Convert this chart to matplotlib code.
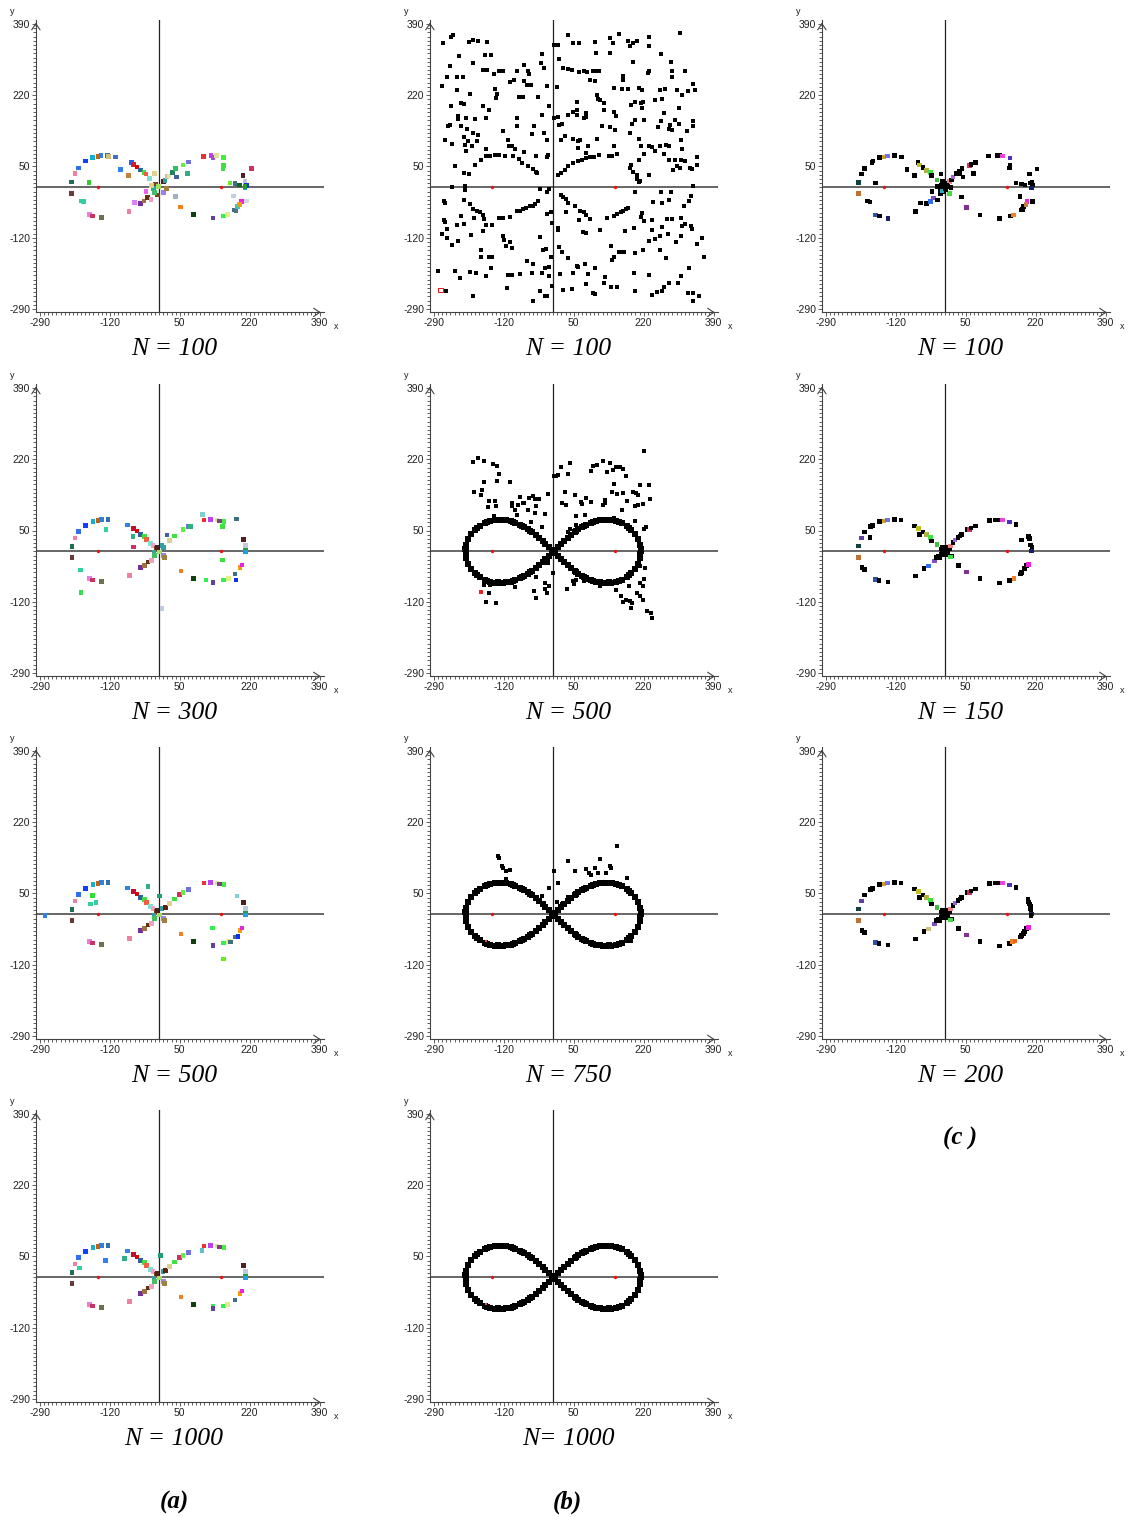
import matplotlib
matplotlib.use("Agg")
import matplotlib.pyplot as plt
from matplotlib.ticker import FixedLocator

# ---------------- data ----------------
TICKS = [-290, -120, 50, 220, 390]
MINOR = list(range(-290, 391, 10))
FOCI_X = [-150, 150]
FOCI_Y = [0, 0]

TITLES = [["N = 100", "N = 300", "N = 500", "N = 1000"],
          ["N = 100", "N = 500", "N = 750", "N= 1000"],
          ["N = 100", "N = 150", "N = 200"]]
GROUP_LABELS = ["(a)", "(b)", "(c )"]

# column (a): coloured agents (x, y, colour)
A1 = [(-213, 13, '#207050'), (-213, -14, '#6b3a3a'), (-205, 33, '#f080a0'), (-197, 46, '#3070f0'),
      (-179, 63, '#1040ff'), (-162, 71, '#10b0d0'), (-149, 74, '#c06010'), (-142, 76, '#3080e0'),
      (-126, 76, '#3070b0'), (-123, 74, '#d0c080'), (-107, 73, '#4070c0'), (-94, 43, '#3080f0'),
      (-68, 60, '#2060f0'), (-63, 55, '#d02030'), (-54, 49, '#e00000'), (-46, 42, '#3060a0'),
      (-74, 29, '#c08040'), (-37, 35, '#40e040'), (-32, 32, '#f06040'), (-24, 22, '#80e0d0'),
      (-11, 33, '#e0d090'), (-171, 12, '#30d030'), (-190, -32, '#30d0a0'), (-184, -34, '#30d0a0'),
      (-170, -65, '#e080e0'), (-162, -68, '#d03060'), (-141, -72, '#707050'), (-73, -57, '#f080a0'),
      (-60, -36, '#e080f0'), (-46, -38, '#7030a0'), (-37, -32, '#a07040'), (-28, -24, '#603010'),
      (-32, -9, '#f060f0'), (-20, -29, '#f0a0c0'), (-9, 8, '#804020'), (-1, 2, '#a0e060'),
      (10, 14, '#502020'), (-4, -18, '#804020'), (10, -12, '#a080f0'), (18, -2, '#a08040'),
      (-14, -3, '#30a0a0'), (14, 17, '#30a0a0'), (-11, -12, '#40c060'), (-18, 5, '#e0d090'),
      (19, 26, '#d0c090'), (24, 27, '#e0e0b0'), (32, 35, '#208060'), (39, 45, '#30c060'),
      (42, 25, '#4060a0'), (58, 54, '#60f040'), (69, 33, '#30b080'), (71, 61, '#7070e0'),
      (108, 74, '#f03030'), (126, 76, '#c040f0'), (131, 72, '#a050c0'), (140, 76, '#e0e0a0'),
      (157, 71, '#40f040'), (157, 53, '#40e040'), (155, 45, '#40e040'), (172, 11, '#60f020'),
      (184, 9, '#407080'), (196, 6, '#106020'), (204, 29, '#502020'), (209, 14, '#c0c0d0'),
      (213, 5, '#1030f0'), (209, 0, '#20a0e0'), (224, 45, '#d03060'), (209, 3, '#20a020'),
      (40, -22, '#a0b0c0'), (52, -47, '#f08020'), (84, -65, '#104010'), (131, -73, '#6040a0'),
      (157, -68, '#30f050'), (166, -65, '#e0f080'), (183, -54, '#407080'), (190, -45, '#40c0c0'),
      (200, -33, '#f020e0'), (213, -32, '#d0d8e0'), (181, -20, '#c0d0e0'), (195, -41, '#f0a000'),
      (187, -56, '#507080')]

A2 = [(-212, 12, '#207050'), (-212, -14, '#6b3a3a'), (-205, 32, '#f080a0'), (-196, 47, '#3070f0'),
      (-179, 62, '#1040ff'), (-161, 71, '#10b0d0'), (-149, 74, '#c06010'), (-141, 76, '#3080e0'),
      (-125, 76, '#3070b0'), (-129, 53, '#30d0a0'), (-77, 63, '#3080f0'), (-63, 55, '#c01030'),
      (-54, 49, '#e00000'), (-45, 41, '#3060a0'), (-64, 35, '#30b080'), (-62, 11, '#d03060'),
      (-36, 35, '#40e040'), (-31, 29, '#f06040'), (-21, 19, '#80e0d0'), (-15, 14, '#f0a0c0'),
      (-192, -44, '#30d0a0'), (-190, -98, '#30e050'), (-170, -64, '#e080e0'), (-162, -68, '#d03060'),
      (-140, -72, '#707050'), (-72, -58, '#f080a0'), (-45, -39, '#7030a0'), (-36, -33, '#a07040'),
      (-27, -25, '#603010'), (-19, -22, '#f0a0c0'), (7, -136, '#c0c8e0'), (-8, 7, '#804020'),
      (0, -1, '#a0e060'), (-5, 10, '#502020'), (11, -10, '#a080f0'), (13, -14, '#a08040'),
      (7, 14, '#30a0a0'), (-13, -2, '#30a0a0'), (-11, -10, '#40c060'), (19, 39, '#4060a0'),
      (25, 26, '#e0d090'), (37, 37, '#40e040'), (11, 10, '#30a0a0'), (58, 53, '#60f040'),
      (71, 60, '#7070e0'), (76, 60, '#30b080'), (106, 88, '#80d0d0'), (109, 75, '#f03030'),
      (125, 76, '#c040f0'), (141, 75, '#e0e0a0'), (147, 73, '#804080'), (158, 72, '#40f040'),
      (154, 59, '#40e040'), (154, -20, '#40e040'), (188, 77, '#407080'), (205, 29, '#502020'),
      (210, 14, '#c0c8e0'), (210, 3, '#20a040'), (210, -1, '#20a0e0'), (53, -47, '#f08020'),
      (84, -64, '#104010'), (114, -68, '#30f050'), (131, -74, '#6040a0'), (157, -68, '#30f050'),
      (168, -64, '#e0f080'), (184, -54, '#407080'), (187, -68, '#1030f0'), (197, -39, '#f0a000'),
      (201, -32, '#f020e0')]

A3 = [(-212, 12, '#207050'), (-212, -14, '#6b3a3a'), (-205, 32, '#f080a0'), (-196, 47, '#3070f0'),
      (-179, 62, '#1040ff'), (-161, 71, '#10b0d0'), (-149, 74, '#c06010'), (-141, 76, '#3080e0'),
      (-125, 76, '#3070b0'), (-278, -2, '#3080f0'), (-162, 45, '#30e030'), (-167, 25, '#30d0a0'),
      (-154, 29, '#30d0a0'), (-77, 63, '#3080f0'), (-63, 55, '#c01030'), (-54, 49, '#e00000'),
      (-45, 41, '#3060a0'), (-27, 66, '#30b080'), (-36, 35, '#40e040'), (-31, 29, '#f06040'),
      (-21, 19, '#80e0d0'), (-15, 14, '#f0a0c0'), (-170, -64, '#e080e0'), (-162, -68, '#d03060'),
      (-140, -72, '#707050'), (-72, -58, '#f080a0'), (-45, -39, '#7030a0'), (-36, -33, '#a07040'),
      (-27, -25, '#603010'), (-19, -22, '#f0a0c0'), (-8, 7, '#804020'), (0, -1, '#a0e060'),
      (-5, 10, '#502020'), (11, -10, '#a080f0'), (13, -14, '#a08040'), (7, 14, '#30a0a0'),
      (-13, -2, '#30a0a0'), (-11, -10, '#40c060'), (1, 44, '#20a070'), (15, 16, '#602010'),
      (25, 26, '#e0d090'), (37, 37, '#40e040'), (49, 48, '#d03060'), (58, 53, '#60f040'),
      (71, 60, '#7070e0'), (109, 75, '#f03030'), (125, 76, '#c040f0'), (141, 75, '#e0e0a0'),
      (147, 73, '#804080'), (158, 72, '#40f040'), (189, 44, '#80d0d0'), (205, 29, '#502020'),
      (210, 14, '#c0c8e0'), (210, 3, '#20a040'), (210, -1, '#20a0e0'), (53, -47, '#f08020'),
      (84, -64, '#104010'), (129, -32, '#30f050'), (131, -74, '#6040a0'), (157, -68, '#30f050'),
      (156, -106, '#60f020'), (168, -64, '#e0f080'), (173, -66, '#407080'), (184, -54, '#407080'),
      (192, -52, '#1030f0'), (197, -39, '#f0a000'), (201, -32, '#f020e0')]

A4 = [(-212, 12, '#207050'), (-212, -14, '#6b3a3a'), (-205, 32, '#f080a0'), (-196, 47, '#3070f0'),
      (-179, 62, '#1040ff'), (-161, 71, '#10b0d0'), (-149, 74, '#c06010'), (-141, 76, '#3080e0'),
      (-125, 76, '#3070b0'), (-194, 23, '#30d0a0'), (-130, 40, '#3080f0'), (-77, 63, '#3080f0'),
      (-63, 55, '#c01030'), (-54, 49, '#e00000'), (-45, 41, '#3060a0'), (-84, 45, '#30b080'),
      (-36, 35, '#40e040'), (-31, 29, '#f06040'), (-21, 19, '#80e0d0'), (-15, 14, '#f0a0c0'),
      (-170, -64, '#e080e0'), (-162, -68, '#d03060'), (-140, -72, '#707050'), (-72, -58, '#f080a0'),
      (-45, -39, '#7030a0'), (-36, -33, '#a07040'), (-27, -25, '#603010'), (-19, -22, '#f0a0c0'),
      (-8, 7, '#804020'), (0, -1, '#a0e060'), (-5, 10, '#502020'), (11, -10, '#a080f0'),
      (13, -14, '#a08040'), (9, 14, '#30a0a0'), (-13, -2, '#30a0a0'), (-11, -10, '#40c060'),
      (3, 53, '#20a070'), (15, 17, '#602010'), (25, 26, '#e0d090'), (37, 37, '#40e040'),
      (49, 48, '#d03060'), (58, 53, '#60f040'), (71, 60, '#7070e0'), (104, 65, '#60c0d0'),
      (109, 75, '#f03030'), (125, 76, '#c040f0'), (141, 75, '#e0e0a0'), (147, 73, '#804080'),
      (158, 72, '#40f040'), (205, 29, '#502020'), (210, 14, '#c0c8e0'), (210, 3, '#20a040'),
      (210, -1, '#20a0e0'), (53, -47, '#f08020'), (84, -64, '#104010'), (131, -68, '#30f050'),
      (131, -74, '#6040a0'), (157, -68, '#30f050'), (166, -64, '#e0f080'), (184, -54, '#407080'),
      (197, -39, '#f0a000'), (201, -32, '#f020e0')]

# column (b): black agents
B1_X = [-267, -248, -243, -205, -195, -182, -162, -228, -195, -166, -152, -252, -258, -271, -234, -219, -170, -162,
        -143, -131, -123, -141, -137, -138, -71, -61, -58, -88, -106, -96, -70, -63, -55, -82, -74, -37, -27, -30,
        -23, -14, -9, -202, -248, -234, -224, -216, -170, -157, -232, -225, -255, -252, -263, -245, -232, -213,
        -191, -164, -209, -196, -217, -207, -213, -182, -186, -190, -238, -164, -123, -111, -101, -88, -88, -52,
        -46, -28, -23, -15, -12, -15, -41, -71, -93, -107, -198, -215,
        -175, -164, -153, -141, -131, -117, -99, -84, -75, -62, -50, -42, -40, -217, -205,
        -214, -214, -246, -218, -265, -263, -266, -263, -258, -271, -259, -246, -232, -234, -216, -201, -225, -202,
        -196, -186, -178, -172, -168, -192, -164, -171, -149, -131, -122, -104, -88, -80, -73, -66, -57, -50, -44,
        -36, -32, -16, -11,
        -123, -119, -106, -101, -114, -148, -156, -176, -176, -187, -203, -226, -239, -280, -261, -194, -164, -152,
        -112, -110, -101, -80, -64, -52, -50, -49, -32, -28, -20, -11, -20, -15, -3, -10, -6, -25, -33, -18, -15, -6,
        -2, 11, 15, 16, 23, 45, 47, 59, 84, 80, 98, 102, 123, 143, 147, 159, 141, 156, 196, 200, 232, 240, 253, 265,
        269, 281, 312, 304, 328, 341, 341, 355, 330, 366, 350, 362, 337, 336, 313, 310, 299, 279, 275, 259, 248, 233,
        265, 277, 289, 312, 321, 318, 331, 336, 340, 287, 281, 265, 262, 242, 240, 220, 216, 200, 203, 209, 212, 234,
        19, 24, 31, 37, 54, 66, 75, 81, 90, 130, 148, 156, 164, 170, 177, 183,
        31, 63, 72, 80, 113, 140, 164, 175, 196, 214, 240, 12, 21, 37, 60, 77, 102, 127, 173, 198, 219, 260,
        11, 19, 29, 37, 47, 61, 70, 81, 89, 99, 112, 135, 144, 155,
        81, 60, 66, 84, 106, 119, 139, 151, 149, 191, 187, 209, 213, 222, 208, 190, 186, 193, 204, 233, 240, 248,
        261, 270, 274, 281, 297, 300, 292, 309, 312, 321, 334, 337, 350, 349, 313, 311, 325, 340, 340, 307, 313,
        328, 340, 344, 300, 289, 272, 261, 248, 265, 270, 297, 305, 285, 281, 256, 263, 289, 282,
        234, 234, 308, 203, 183, 188, 195, 159, 139, 146, 102, 137, 194, 262, 286, 289, 320, 234, 230, 208, 216,
        218, 213, 215, 198, 190, 198, 220, 147, 167, 183, 169, 170, 111, 102, 96, 83, 75, 62, 90, 102, 107, 108,
        113, 123, 123, 147, 153, 119, 80, 75, 81, 58, 58, 58, 49, 15, 3, 11, 21, 37, 47, 60, 18, 28, 15, 25, 36,
        45, 10, 3, 11, 37, 47, 63, 104]
B1_Y = [344, 360, 364, 346, 352, 350, 346, 314, 298, 317, 317, 289, 264, 243, 263, 263, 281, 281,
        271, 279, 279, 235, 223, 213, 291, 278, 271, 277, 251, 257, 255, 244, 244, 217, 217, 216, 319, 297,
        284, 241, 195, 223, 195, 232, 201, 200, 195, 184, 171, 147, 146, 149, 114, 104, 164, 165,
        163, 165, 139, 130, 120, 110, 86, 126, 112, 54, 52, 92, 134, 114, 98, 166, 146, 127,
        146, 173, 130, 114, 77, 72, 76, 85, 91, 98, 99, 101,
        66, 74, 76, 77, 77, 76, 74, 68, 59, 52, 44, 37, 34, 34, 32,
        4, -7, 0, -29, -32, -37, -77, -83, -99, -111, -121, -138, -127, -89, -88, -114, -68, -39,
        -51, -57, -59, -65, -75, -73, -90, -103, -89, -73, -73, -70, -57, -55, -52, -50, -45, -44, -39,
        -33, -4, -10, -4,
        -115, -126, -129, -145, -139, -165, -167, -149, -167, -204, -202, -216, -199, -199, -246, -260, -211, -193,
        -239, -209, -209, -207, -175, -204, -182, -270, -247, -204, -193, -212, -258, -260, -235, -189, -165, -150, -119, -147, -64, -59,
        -85, -101, -141, -206, -244, -243, -203, -187, -207, -230, -251, -254, -228, -173, -167, -155, -238, -238, -203, -248, -209, -256, -250, -247,
        -238, -227, -212, -228, -251, -252, -272, -258, -191, -167, -135, -121, -99, -93, -93, -117, -129, -111, -169, -149, -123, -127,
        -95, -75, -75, -73, -87, -44, -33, -21, 4, -12, -29, -36, -10, -34, -77, -81, -61, -12, 20, 14, 16, 29,
        -18, -23, -28, -37, -45, -55, -59, -65, -76, -73, -69, -64, -58, -56, -52, -49,
        -59, -77, -107, -109, -101, -139, -155, -103, -97, -71, -101, -97, -154, -169, -189, -183, -193, -214, -155, -157, -150, -117,
        30, 35, 41, 52, 58, 64, 66, 71, 73, 73, 77, 76, 74, 80,
        82, 95, 114, 98, 116, 146, 144, 136, 100, 152, 130, 116, 98, 80, 66, 53, 46, 38, 30, 100, 96, 88,
        98, 80, 102, 66, 65, 50, 42, 46, 66, 62, 46, 44, 53, 73, 91, 114, 134, 158, 146, 189, 220,
        229, 246, 233, 233, 263, 235, 233, 209, 211, 177, 161, 152, 150, 140, 144, 158, 136, 98,
        359, 338, 369, 349, 349, 338, 344, 365, 356, 344, 347, 321, 300, 319, 300, 277, 277, 279, 273, 237, 233,
        205, 201, 189, 205, 197, 160, 161, 237, 235, 235, 257, 265, 279, 279, 279, 275, 279, 276, 257, 255, 221, 212,
        209, 201, 185, 181, 171, 147, 177, 165, 168, 205, 185, 173, 181, 150, 166, 169, 152, 173, 116, 111, 114, 123, 306, 285, 282,
        281, 239, 339, 339, 364, 344, 344, 321]
B1_RED_X = [-274]
B1_RED_Y = [-244]

CURVE_X = [213, 211, 207, 200, 190, 179, 167, 154, 141, 128, 115, 103, 92, 81, 71, 61, 52, 43, 35, 26, 19, 11, 4,
           211, 207, 200, 190, 179, 167, 154, 141, 128, 115, 103, 92, 81, 71, 61, 52, 43, 35, 26, 19, 11, 4,
           -213, -211, -207, -200, -190, -179, -167, -154, -141, -128, -115, -103, -92, -81, -71, -61, -52, -43, -35, -26, -19, -11, -4,
           -211, -207, -200, -190, -179, -167, -154, -141, -128, -115, -103, -92, -81, -71, -61, -52, -43, -35, -26, -19, -11, -4,
           0, 214, 212, -214, -212, 185, 160, 135, 122, 97, 76, 56, -185, -160, -135, -122, -97, -76, -56,
           185, 160, 135, 122, 97, 76, 56, -185, -160, -135, -122, -97, -76, -56]
CURVE_Y = [0, 15, 29, 41, 52, 61, 68, 72, 75, 75, 74, 72, 68, 64, 58, 53, 46, 40, 33, 26, 18, 11, 4,
           -15, -29, -41, -52, -61, -68, -72, -75, -75, -74, -72, -68, -64, -58, -53, -46, -40, -33, -26, -18, -11, -4,
           0, 15, 29, 41, 52, 61, 68, 72, 75, 75, 74, 72, 68, 64, 58, 53, 46, 40, 33, 26, 18, 11, 4,
           -15, -29, -41, -52, -61, -68, -72, -75, -75, -74, -72, -68, -64, -58, -53, -46, -40, -33, -26, -18, -11, -4,
           0, 7, -7, 7, -7, 57, 70, 74, 75, 70, 61, 49, 57, 70, 74, 75, 70, 61, 49,
           -57, -70, -74, -75, -70, -61, -49, -57, -70, -74, -75, -70, -61, -49]

B2_X = [-194, -183, -169, -147, -137, -131, -137, -168, -174, -192, -175, -157, -159, -141, -139, -145, -104, -101,
        -100, -85, -88, -80, -71, -58, -48, -44, -41, -45, -54, -27, -21, -13, -35, -62, -94, -74,
        2, 7, 12, 19, 42, 36, 28, 22, 32, 54, 68, 71, 80, 93, 78, 55, 56, 40, 37, 93, 98, 107, 121, 137, 130, 145,
        154, 162, 170, 178, 147, 142, 155, 171, 125, 127, 167, 180, 194, 201, 198, 206, 218, 207, 211, 220, 235,
        232, 222, 226, 200, 149, 121,
        -163, -155, -139, -169, -153, -110, -93, -41, -47, -41, -19, -15, -10, -19, -9, -13, -12, -1,
        33, 48, 50, 56, 75, 80, 114, 152, 164, 169, 178, 188, 192, 190, 211, 204, 211, 222, 224, 212, 219, 229,
        239, 241, 184, 218]
B2_Y = [214, 224, 216, 208, 204, 184, 168, 166, 146, 142, 134, 120, 107, 120, 108, 84, 166, 115,
        108, 110, 87, 131, 116, 128, 132, 124, 108, 92, 71, 58, 90, 136, 124, 99, 100, 116,
        180, 180, 182, 201, 210, 186, 142, 116, 112, 134, 118, 114, 128, 118, 86, 84, 62, 54, 47, 192, 204, 207,
        217, 210, 189, 194, 201, 201, 197, 180, 160, 142, 136, 140, 123, 116, 100, 120, 142, 139, 108, 110, 114,
        134, 159, 240, 124, 159, 53, 58, 72, 79, 112,
        -121, -100, -123, -79, -79, -76, -84, -61, -95, -112, -89, -99, -83, -75, -10, -18, -27, -51,
        -89, -71, -77, -67, -71, -67, -83, -92, -107, -121, -115, -119, -124, -135, -107, -99, -75, -65, -39, -35,
        -83, -143, -147, -159, -83, -115]
B2_RED_X = [-175]
B2_RED_Y = [-96]

B3_X = [-135, -133, -124, -121, -116, -105, -116, -28, -11, 1, 11, 10, 21, 36, 37, 52, 79, 86, 91, 101, 110,
        114, 129, 137, 141, 155, 179, 145, 190]
B3_Y = [139, 134, 115, 110, 103, 105, 84, 45, 64, 103, 75, 30, 25, 41, 128, 103, 108, 100, 95, 112, 99,
        132, 100, 115, 110, 164, 88, 78, -64]
B34_RED_X = [-163]
B34_RED_Y = [-63]

# column (c): mostly black agents with a few coloured ones
C1 = [(-211, 12, '#104040'), (-211, -14, '#c07030'), (-204, 32, 'k'), (-196, 45, 'k'), (-178, 60, 'k'),
      (-176, 63, 'k'), (-160, 71, 'k'), (-149, 73, '#d0a020'), (-141, 75, '#7070f0'), (-123, 76, 'k'),
      (-107, 73, 'k'), (-93, 43, 'k'), (-66, 60, 'k'), (-63, 54, '#c0c020'), (-54, 48, 'k'),
      (-46, 41, '#b0b040'), (-36, 35, '#40e040'), (-33, 29, 'k'), (-74, 28, 'k'), (-10, 32, 'k'),
      (-20, 18, '#40c040'), (-170, 11, 'k'), (-189, -32, 'k'), (-183, -35, 'k'), (-169, -66, '#3050a0'),
      (-160, -68, 'k'), (-139, -74, '#202060'), (-72, -58, 'k'), (-60, -37, 'k'), (-45, -39, 'k'),
      (-36, -33, '#3070f0'), (-28, -25, '#8050c0'), (-32, -9, 'k'), (-19, -30, 'k'),
      (-10, 6, 'k'), (-2, 3, 'k'), (5, 11, 'k'), (-3, -10, 'k'), (10, -14, '#40e040'), (14, 0, 'k'),
      (-13, -5, 'k'), (11, 14, '#f08080'), (-11, -14, 'k'), (-19, 2, 'k'), (2, -6, 'k'), (-6, 14, 'k'),
      (6, 2, 'k'), (-8, -8, '#20b0c0'), (0, -2, 'k'), (4, 6, 'k'),
      (15, 18, 'k'), (19, 25, '#a060e0'), (27, 33, 'k'), (35, 39, 'k'), (41, 45, 'k'), (36, 33, 'k'),
      (43, 25, 'k'), (59, 53, '#d03060'), (63, 55, 'k'), (73, 60, 'k'), (69, 33, 'k'), (106, 75, 'k'),
      (126, 76, 'k'), (132, 76, 'k'), (139, 75, '#f040e0'), (158, 70, '#5030c0'), (158, 52, 'k'),
      (157, 46, 'k'), (172, 11, 'k'), (185, 8, 'k'), (194, 6, 'k'), (205, 32, 'k'), (211, 13, 'k'),
      (213, 6, 'k'), (210, -1, '#102060'), (223, 44, 'k'), (206, 11, 'k'),
      (39, -23, 'k'), (52, -48, '#803090'), (85, -66, 'k'), (132, -74, 'k'), (159, -68, 'k'),
      (166, -66, '#f08020'), (185, -54, 'k'), (191, -46, 'k'), (199, -34, '#f020e0'), (213, -33, 'k'),
      (182, -21, 'k'), (197, -41, '#c08040'), (188, -53, 'k')]

C2 = [(-211, 13, '#104040'), (-211, -15, '#c07030'), (-204, 32, '#6040a0'), (-196, 46, 'k'), (-181, 60, 'k'),
      (-177, 62, 'k'), (-160, 71, 'k'), (-149, 73, '#d0a020'), (-141, 75, '#7070f0'), (-123, 76, 'k'),
      (-108, 75, 'k'), (-183, 34, 'k'), (-74, 61, 'k'), (-65, 55, '#c0c020'), (-62, 41, 'k'),
      (-54, 46, 'k'), (-45, 41, '#b0b040'), (-36, 33, '#40e040'), (-33, 25, 'k'), (-20, 17, '#40c040'),
      (-202, -38, 'k'), (-196, -43, 'k'), (-170, -67, '#3050a0'), (-161, -69, 'k'), (-139, -73, 'k'),
      (-72, -59, 'k'), (-52, -40, 'k'), (-40, -35, '#3070f0'), (-26, -23, '#8050c0'), (-22, -15, 'k'),
      (-16, -11, 'k'),
      (-10, 6, 'k'), (-3, 3, 'k'), (2, 1, 'k'), (6, -3, 'k'), (-6, -3, 'k'), (0, -7, 'k'), (-10, -7, 'k'),
      (11, 6, 'k'), (5, 9, 'k'), (-2, 9, 'k'), (-14, -15, 'k'), (15, -11, 'k'), (-6, 10, 'k'), (3, -3, 'k'),
      (13, 13, '#f08080'), (19, 21, 'k'), (24, 27, '#a060e0'), (31, 33, 'k'), (36, 37, 'k'), (40, 40, 'k'),
      (53, 53, 'k'), (59, 53, '#d03060'), (63, 56, 'k'), (73, 61, 'k'), (108, 74, 'k'), (122, 75, 'k'),
      (130, 75, 'k'), (140, 75, '#f040e0'), (157, 70, '#5030c0'), (172, 64, 'k'), (186, 27, 'k'),
      (202, 35, 'k'), (205, 31, 'k'), (207, 15, 'k'), (211, 10, 'k'), (210, 1, '#102060'),
      (13, -13, '#40e040'), (32, -34, 'k'), (52, -49, '#803090'), (85, -65, 'k'), (132, -75, 'k'),
      (156, -69, 'k'), (167, -64, '#f08020'), (183, -54, 'k'), (186, -50, 'k'), (193, -40, 'k'),
      (198, -34, 'k'), (202, -31, '#f020e0')]

C3 = [(-211, 13, '#104040'), (-211, -15, '#c07030'), (-204, 32, '#6040a0'), (-196, 46, 'k'), (-181, 60, 'k'),
      (-177, 62, 'k'), (-160, 71, 'k'), (-149, 73, '#d0a020'), (-141, 75, '#7070f0'), (-123, 76, 'k'),
      (-108, 75, 'k'), (-74, 61, 'k'), (-65, 55, '#c0c020'), (-62, 41, 'k'), (-54, 46, 'k'),
      (-45, 41, '#b0b040'), (-36, 33, '#40e040'), (-33, 25, 'k'), (-20, 17, '#40c040'),
      (-202, -38, 'k'), (-196, -43, 'k'), (-170, -67, '#3050a0'), (-161, -69, 'k'), (-139, -73, 'k'),
      (-72, -59, 'k'), (-52, -40, 'k'), (-40, -35, '#d0c080'), (-26, -23, '#8050c0'), (-22, -15, 'k'),
      (-16, -11, 'k'),
      (-10, 6, 'k'), (-3, 3, 'k'), (2, 1, 'k'), (6, -3, 'k'), (-6, -3, 'k'), (0, -7, 'k'), (-10, -7, 'k'),
      (11, 6, 'k'), (5, 9, 'k'), (-2, 9, 'k'), (-14, -15, 'k'), (15, -11, 'k'), (-6, 10, 'k'), (3, -3, 'k'),
      (13, 13, '#f08080'), (19, 21, 'k'), (24, 27, '#a060e0'), (31, 33, 'k'), (36, 37, 'k'), (40, 40, 'k'),
      (53, 53, 'k'), (59, 53, '#d03060'), (63, 56, 'k'), (73, 61, 'k'), (108, 74, 'k'), (122, 75, 'k'),
      (130, 75, 'k'), (140, 75, '#f040e0'), (157, 70, '#5030c0'), (172, 64, 'k'), (201, 35, 'k'),
      (203, 30, 'k'), (205, 25, 'k'), (207, 19, 'k'), (208, 13, 'k'), (209, 6, 'k'), (210, 1, '#102060'),
      (209, -3, 'k'),
      (13, -13, '#40e040'), (32, -34, 'k'), (52, -49, '#803090'), (85, -65, 'k'), (132, -75, 'k'),
      (156, -69, 'k'), (164, -65, '#f08020'), (170, -63, '#f06020'), (183, -54, 'k'), (186, -50, 'k'),
      (190, -46, 'k'), (193, -40, 'k'), (198, -34, 'k'), (202, -31, '#f020e0')]

# ---------------- layout ----------------
W, H = 1128, 1517
fig = plt.figure(figsize=(W / 100, H / 100), dpi=100)
fig.patch.set_facecolor('white')

COL_X0 = [40, 434, 826]        # pixel position of x = -290
ROW_Y0 = [24, 388, 751, 1114]  # pixel position of y = 390
SX = 279.5 / 680
SY = 285 / 680
XL = (-300, 400)
YL = (-298, 400)
AXC = '#444444'


def make_ax(col, row):
    left_px = COL_X0[col] + (XL[0] + 290) * SX
    top_px = ROW_Y0[row] - (YL[1] - 390) * SY
    w = (XL[1] - XL[0]) * SX
    h = (YL[1] - YL[0]) * SY
    ax = fig.add_axes([left_px / W, 1 - (top_px + h) / H, w / W, h / H])
    ax.set_xlim(*XL)
    ax.set_ylim(*YL)
    ax.set_facecolor('none')
    for s in ('top', 'right'):
        ax.spines[s].set_visible(False)
    for s in ('left', 'bottom'):
        ax.spines[s].set_color(AXC)
        ax.spines[s].set_linewidth(0.8)
    ax.set_xticks(TICKS)
    ax.set_yticks(TICKS)
    ax.set_xticklabels([str(t) for t in TICKS], family='Liberation Sans')
    ax.set_yticklabels([str(t) for t in TICKS], family='Liberation Sans')
    ax.xaxis.set_minor_locator(FixedLocator(MINOR))
    ax.yaxis.set_minor_locator(FixedLocator(MINOR))
    ax.tick_params(which='both', direction='out', color=AXC, width=0.6,
                   labelsize=7.5, pad=1, labelcolor='#222222')
    ax.tick_params(which='major', length=3)
    ax.tick_params(which='minor', length=2.2)
    # axis arrows
    ax.annotate('', xy=(1.0, 0.0), xycoords='axes fraction', xytext=(0.97, 0.0),
                arrowprops=dict(arrowstyle='->,head_length=0.45,head_width=0.3', lw=0.8, color=AXC))
    ax.annotate('', xy=(0.0, 1.0), xycoords='axes fraction', xytext=(0.0, 0.97),
                arrowprops=dict(arrowstyle='->,head_length=0.45,head_width=0.3', lw=0.8, color=AXC))
    ax.text(1.045, -0.05, 'x', transform=ax.transAxes, fontsize=6.5, ha='center', va='center',
            family='Liberation Sans', color='#222222')
    ax.text(-0.083, 1.03, 'y', transform=ax.transAxes, fontsize=6.5, ha='center', va='center',
            family='Liberation Sans', color='#222222')
    # coordinate cross
    ax.axhline(0, color='#5a5a5a', lw=1.3, zorder=1)
    ax.axvline(0, color='#222222', lw=0.9, zorder=1)
    ax.text(0.48, -0.124, TITLES[col][row], transform=ax.transAxes, ha='center', va='center',
            fontsize=18.5, family='Liberation Serif', style='italic')
    return ax


def foci(ax):
    ax.scatter(FOCI_X, FOCI_Y, s=6, marker='o', color='#ee1111', linewidths=0, zorder=5)


def colored(ax, pts, size):
    xs = [p[0] for p in pts]
    ys = [p[1] for p in pts]
    cs = [p[2] for p in pts]
    ax.scatter(xs, ys, s=size, marker='s', c=cs, linewidths=0, zorder=3)


# column (a)
for r, pts in enumerate([A1, A2, A3, A4]):
    ax = make_ax(0, r)
    colored(ax, pts, 11)
    foci(ax)

# column (b)
ax = make_ax(1, 0)
ax.scatter(B1_X, B1_Y, s=9, marker='s', color='black', linewidths=0, zorder=3)
ax.scatter(B1_RED_X, B1_RED_Y, s=9, marker='s', facecolors='none', edgecolors='#ee1111', linewidths=0.7, zorder=4)
foci(ax)

ax = make_ax(1, 1)
ax.scatter(CURVE_X, CURVE_Y, s=24, marker='s', color='black', linewidths=0, zorder=3)
ax.scatter(B2_X, B2_Y, s=9, marker='s', color='black', linewidths=0, zorder=3)
ax.scatter(B2_RED_X, B2_RED_Y, s=7, marker='s', color='#ee2222', linewidths=0, zorder=4)
foci(ax)

ax = make_ax(1, 2)
ax.scatter(CURVE_X, CURVE_Y, s=24, marker='s', color='black', linewidths=0, zorder=3)
ax.scatter(B3_X, B3_Y, s=9, marker='s', color='black', linewidths=0, zorder=3)
ax.scatter(B34_RED_X, B34_RED_Y, s=4, marker='s', color='#ee4444', linewidths=0, zorder=4)
foci(ax)

ax = make_ax(1, 3)
ax.scatter(CURVE_X, CURVE_Y, s=24, marker='s', color='black', linewidths=0, zorder=3)
ax.scatter(B34_RED_X, B34_RED_Y, s=4, marker='s', color='#ee4444', linewidths=0, zorder=4)
foci(ax)

# column (c)
for r, pts in enumerate([C1, C2, C3]):
    ax = make_ax(2, r)
    colored(ax, pts, 11)
    foci(ax)

# group labels
LABEL_POS = [(174, 1502), (567, 1502), (960, 1138)]
for lab, (px, py) in zip(GROUP_LABELS, LABEL_POS):
    fig.text(px / W, 1 - py / H, lab, ha='center', va='center', fontsize=18,
             family='Liberation Serif', style='italic', weight='bold')

fig.savefig('out.png', dpi=100)
